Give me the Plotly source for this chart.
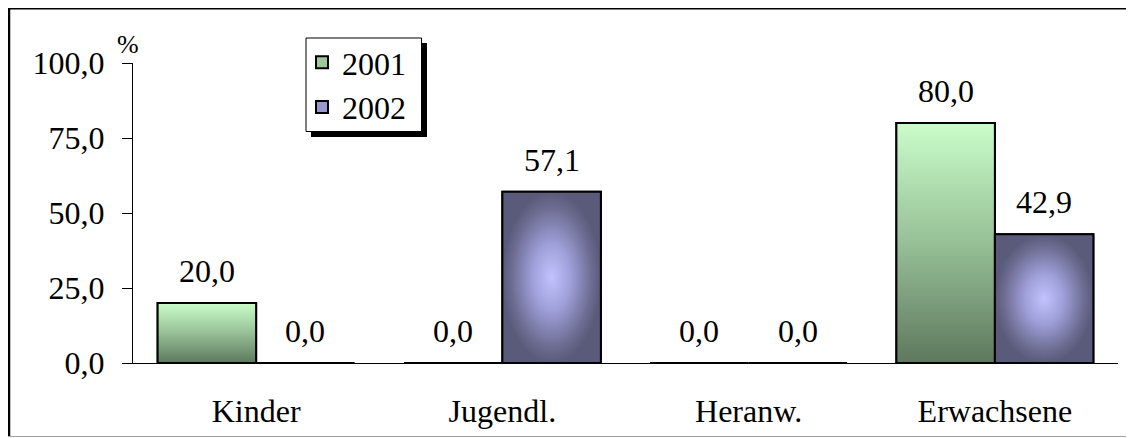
import plotly.graph_objects as go

# ---- data ----
categories = ["Kinder", "Jugendl.", "Heranw.", "Erwachsene"]
years = ["2001", "2002"]
values_2001 = [20.0, 0.0, 0.0, 80.0]
values_2002 = [0.0, 57.1, 0.0, 42.9]
y_ticks = [0, 25, 50, 75, 100]

# ---- styling ----
FONT = "Liberation Serif, Times New Roman, serif"
FS = 32
OFF = 8                      # page (body) margin around the plot div
W, H = 1134 - OFF, 438 - OFF
PL, PT, PW, PH = 133, 63, 985, 300   # plot area in page pixels
L, T = PL - OFF, PT - OFF
R, B = W - L - PW, H - T - PH
BAR_W = 0.4

def px2x(px):
    return (px - PL) / PW

def py2y(py):
    return (PT + PH - py) / PH

series = [
    dict(name=years[0], values=values_2001, solid="#9CC89C",
         grad=dict(type="vertical", colorscale=[[0, "#5E785E"], [0.5, "#96C096"], [1, "#CAFDCA"]])),
    dict(name=years[1], values=values_2002, solid="#9898D0",
         grad=dict(type="radial", colorscale=[[0, "#C2C2FF"], [0.4, "#9E9ED8"], [0.8, "#6E6E94"], [1, "#5A5A7A"]])),
]

xs = list(range(len(categories)))
fig = go.Figure()

# real bars (data marks, legend)
for s in series:
    fig.add_trace(go.Bar(
        x=xs, y=s["values"], name=s["name"],
        marker=dict(color=s["solid"], line=dict(color="black", width=2)),
        hoverinfo="x+y",
    ))

# gradient faces drawn over each bar, derived from the same arrays
for k, s in enumerate(series):
    for i, v in enumerate(s["values"]):
        if v <= 0:
            continue
        x0 = i - BAR_W + k * BAR_W
        x1 = x0 + BAR_W
        fig.add_trace(go.Scatter(
            x=[x0, x1, x1, x0, x0], y=[0, 0, v, v, 0],
            mode="lines", fill="toself", fillgradient=s["grad"],
            line=dict(color="black", width=2),
            showlegend=False, hoverinfo="skip",
        ))

# value labels
annotations = []
for k, s in enumerate(series):
    for i, v in enumerate(s["values"]):
        annotations.append(dict(
            x=i - BAR_W / 2 + k * BAR_W, y=v, xref="x", yref="y",
            text=f"{v:.1f}".replace(".", ","), showarrow=False,
            yanchor="middle", yshift=32,
            font=dict(family=FONT, size=FS, color="black"),
        ))
annotations.append(dict(
    x=px2x(128), y=py2y(44), xref="paper", yref="paper", text="%",
    showarrow=False, xanchor="center", yanchor="middle",
    font=dict(family=FONT, size=26, color="black"),
))

shapes = [
    # legend shadow and box
    dict(type="rect", xref="paper", yref="paper",
         x0=px2x(311), x1=px2x(427), y0=py2y(137), y1=py2y(43),
         fillcolor="black", line=dict(width=0), layer="above"),
    dict(type="rect", xref="paper", yref="paper",
         x0=px2x(306), x1=px2x(421.5), y0=py2y(131.5), y1=py2y(38),
         fillcolor="white", line=dict(color="black", width=1), layer="above"),
    # outer frame
    dict(type="line", xref="paper", yref="paper", x0=px2x(9), x1=px2x(9),
         y0=py2y(7), y1=py2y(436), line=dict(color="black", width=2.5)),
    dict(type="line", xref="paper", yref="paper", x0=px2x(7.8), x1=px2x(1140),
         y0=py2y(8.3), y1=py2y(8.3), line=dict(color="black", width=2.5)),
    dict(type="line", xref="paper", yref="paper", x0=px2x(8), x1=px2x(1140),
         y0=py2y(436.5), y1=py2y(436.5), line=dict(color="#A0A0A0", width=1)),
]

bounds = [i - 0.5 for i in range(len(categories) + 1)]
xr = [-0.5, len(categories) - 0.5]
yr = [y_ticks[0], y_ticks[-1]]

fig.update_layout(
    width=W, height=H, autosize=False,
    margin=dict(l=L, r=R, t=T, b=B, pad=0, autoexpand=False),
    paper_bgcolor="white", plot_bgcolor="white",
    separators=",.",
    barmode="group", bargap=0.2, bargroupgap=0,
    font=dict(family=FONT, size=FS, color="black"),
    showlegend=True,
    legend=dict(x=px2x(302), y=py2y(35), xanchor="left", yanchor="top",
                bgcolor="rgba(0,0,0,0)", borderwidth=0,
                font=dict(family=FONT, size=FS, color="black"),
                tracegroupgap=0),
    xaxis=dict(range=xr, tickmode="array", tickvals=xs, ticktext=categories,
               ticks="", showgrid=False, zeroline=False, showline=True,
               linecolor="black", linewidth=1, ticklabelstandoff=20,
               automargin=False,
               tickfont=dict(family=FONT, size=FS, color="black")),
    xaxis2=dict(overlaying="x", anchor="y", side="bottom", range=xr,
                tickmode="array", tickvals=bounds, ticks="outside", ticklen=10,
                tickcolor="black", tickwidth=1, showticklabels=False,
                showgrid=False, zeroline=False, showline=False, automargin=False),
    xaxis3=dict(overlaying="x", anchor="y", side="bottom", range=xr,
                tickmode="array", tickvals=bounds, ticks="inside", ticklen=10,
                tickcolor="black", tickwidth=1, showticklabels=False,
                showgrid=False, zeroline=False, showline=False, automargin=False),
    yaxis=dict(range=yr, tickmode="array", tickvals=y_ticks, tickformat=".1f",
               ticks="outside", ticklen=10, tickcolor="black", tickwidth=1,
               showgrid=False, zeroline=False, showline=True, linecolor="black",
               linewidth=1, ticklabelstandoff=11, automargin=False,
               tickfont=dict(family=FONT, size=FS, color="black")),
    yaxis2=dict(overlaying="y", anchor="x", side="left", range=yr,
                tickmode="array", tickvals=y_ticks, ticks="inside", ticklen=10,
                tickcolor="black", tickwidth=1, showticklabels=False,
                showgrid=False, zeroline=False, showline=False, automargin=False),
    annotations=annotations,
    shapes=shapes,
)

fig.write_html("out.html")
